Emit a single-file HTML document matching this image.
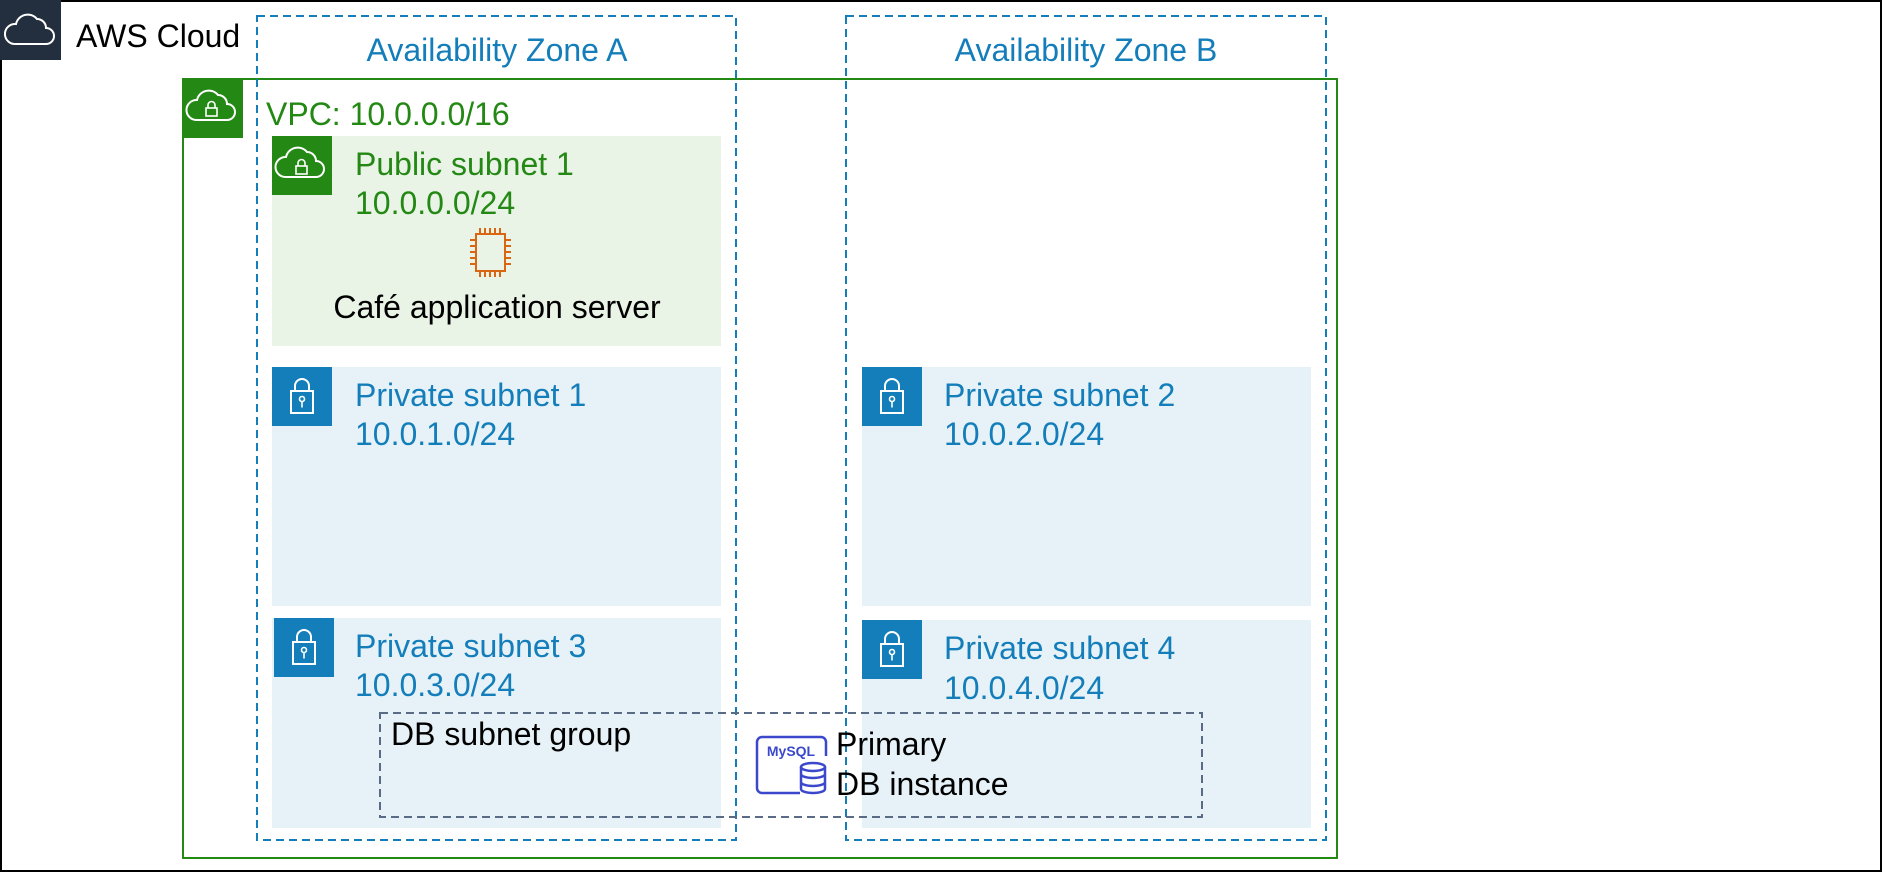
<!DOCTYPE html>
<html><head><meta charset="utf-8"><style>
html,body{margin:0;padding:0;background:#fff;}
svg{display:block;}
text{font-family:"Liberation Sans",sans-serif;font-size:32px;}
</style></head><body>
<svg width="1882" height="872" viewBox="0 0 1882 872" xmlns="http://www.w3.org/2000/svg">
<rect x="1" y="1" width="1880" height="870" fill="#fff" stroke="#000" stroke-width="2"/>
<rect x="0" y="0" width="61" height="60" fill="#232f3e"/>
<path d="M14 44 h32 a8 8 0 0 0 0-16 a9 9 0 0 0-9-9 a12 12 0 0 0-21 5 a10 10 0 0 0-2 20z" fill="none" stroke="#fff" stroke-width="2"/>
<text x="76" y="47" fill="#000">AWS Cloud</text>
<rect x="272" y="136" width="449" height="210" fill="#e9f3e6"/>
<rect x="272" y="367" width="449" height="239" fill="#e6f2f8"/>
<rect x="862" y="367" width="449" height="239" fill="#e6f2f8"/>
<rect x="272" y="618" width="449" height="210" fill="#e6f2f8"/>
<rect x="862" y="620" width="449" height="208" fill="#e6f2f8"/>
<rect x="183" y="79" width="1154" height="779" fill="none" stroke="#248814" stroke-width="2"/>
<rect x="182" y="78" width="61" height="60" fill="#248814"/>
<path d="M196 120 h31 a8 8 0 0 0 0-16 a9 9 0 0 0-9-9 a12 12 0 0 0-21 5 a10 10 0 0 0-1 20z" fill="none" stroke="#fff" stroke-width="2"/>
<rect x="206" y="108" width="11" height="8" fill="none" stroke="#fff" stroke-width="1.6"/>
<path d="M208 108 v-3 a3.5 3.5 0 0 1 7 0 v3" fill="none" stroke="#fff" stroke-width="1.6"/>
<text x="266" y="125" fill="#248814">VPC: 10.0.0.0/16</text>
<rect x="272" y="136" width="60" height="59" fill="#248814"/>
<path d="M285 177 h31 a8 8 0 0 0 0-16 a9 9 0 0 0-9-9 a12 12 0 0 0-21 5 a10 10 0 0 0-1 20z" fill="none" stroke="#fff" stroke-width="2"/>
<rect x="296" y="166" width="11" height="8" fill="none" stroke="#fff" stroke-width="1.6"/>
<path d="M298 166 v-3 a3.5 3.5 0 0 1 7 0 v3" fill="none" stroke="#fff" stroke-width="1.6"/>
<text x="355" y="175" fill="#248814">Public subnet 1</text>
<text x="355" y="214" fill="#248814">10.0.0.0/24</text>
<g stroke="#d86613" stroke-width="2" fill="none">
<rect x="476" y="234" width="29" height="37"/>
<path d="M480 234v-6M485 234v-6M490 234v-6M495 234v-6M500 234v-6M480 271v6M485 271v6M490 271v6M495 271v6M500 271v6M476 240h-6M476 246h-6M476 252h-6M476 258h-6M476 264h-6M505 240h6M505 246h6M505 252h6M505 258h6M505 264h6"/>
</g>
<text x="497" y="318" fill="#000" text-anchor="middle">Café application server</text>
<g id="lk">
<rect x="272" y="367" width="60" height="59" fill="#147eba"/>
<rect x="291" y="391" width="22" height="22" fill="none" stroke="#fff" stroke-width="2"/>
<path d="M295 391 v-5 a7 7 0 0 1 14 0 v5" fill="none" stroke="#fff" stroke-width="2"/>
<circle cx="302" cy="399" r="2.5" fill="none" stroke="#fff" stroke-width="1.6"/>
<path d="M302 401.5 v6" stroke="#fff" stroke-width="1.6"/>
</g>
<use href="#lk" x="590" y="0"/>
<use href="#lk" x="2" y="251"/>
<use href="#lk" x="590" y="253"/>
<text x="355" y="406" fill="#147eba">Private subnet 1</text>
<text x="355" y="445" fill="#147eba">10.0.1.0/24</text>
<text x="944" y="406" fill="#147eba">Private subnet 2</text>
<text x="944" y="445" fill="#147eba">10.0.2.0/24</text>
<text x="355" y="657" fill="#147eba">Private subnet 3</text>
<text x="355" y="696" fill="#147eba">10.0.3.0/24</text>
<text x="944" y="659" fill="#147eba">Private subnet 4</text>
<text x="944" y="699" fill="#147eba">10.0.4.0/24</text>
<rect x="257" y="16" width="479" height="824" fill="none" stroke="#147eba" stroke-width="2" stroke-dasharray="8,5"/>
<rect x="846" y="16" width="480" height="824" fill="none" stroke="#147eba" stroke-width="2" stroke-dasharray="8,5"/>
<text x="497" y="61" fill="#147eba" text-anchor="middle">Availability Zone A</text>
<text x="1086" y="61" fill="#147eba" text-anchor="middle">Availability Zone B</text>
<rect x="380" y="713" width="822" height="104" fill="none" stroke="#5a6b86" stroke-width="2" stroke-dasharray="8,5"/>
<text x="391" y="745" fill="#000">DB subnet group</text>
<g stroke="#3b48cc" stroke-width="2.5" fill="none">
<path d="M800 793 h-38 a5 5 0 0 1-5-5 v-46 a5 5 0 0 1 5-5 h59 a5 5 0 0 1 5 5 v14"/>
<ellipse cx="813" cy="767" rx="12" ry="4"/>
<path d="M801 767v22a12 4 0 0 0 24 0v-22M801 774a12 4 0 0 0 24 0M801 782a12 4 0 0 0 24 0"/>
</g>
<text x="791" y="756" fill="#3b48cc" font-weight="bold" text-anchor="middle" style="font-size:14px">MySQL</text>
<text x="836" y="755" fill="#000">Primary</text>
<text x="836" y="795" fill="#000">DB instance</text>
</svg>
</body></html>
